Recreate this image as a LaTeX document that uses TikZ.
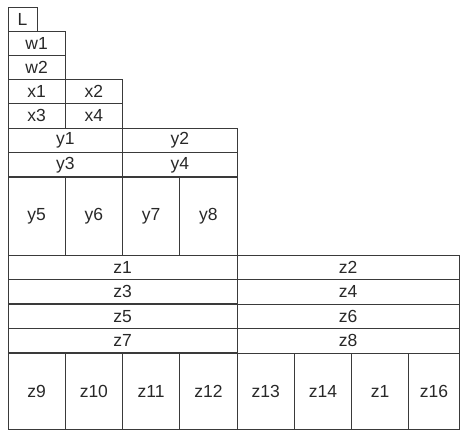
\documentclass[tikz,border=0pt]{standalone}
\usepackage{fontspec}
\setmainfont{Liberation Sans}
\usetikzlibrary{positioning}
\definecolor{GridLine}{RGB}{58,58,58}
\definecolor{CellText}{RGB}{40,40,40}
\tikzset{
  cell/.style={draw=GridLine,line width=0.9pt,inner sep=0pt,outer sep=0pt,
    anchor=north west,text=CellText,font=\fontsize{17.5}{17.5}\selectfont},
  shortcell/.style={cell,minimum height=24.2pt},
  tallcell/.style={cell,minimum height=77pt}
}

\begin{document}
\begin{tikzpicture}[x=1pt,y=-1pt]
  \useasboundingbox (0,0) rectangle (460,430);
  % top staircase
  \node[shortcell,minimum width=29pt] (L) at (8,7) {L\hspace{6pt}};
  \node[shortcell,minimum width=57.25pt] (w1) at (8,31.2) {w1};
  \node[shortcell,minimum width=57.25pt] (w2) at (8,55.4) {w2};
  \node[shortcell,minimum width=57.25pt] (x1) at (8,79.6) {x1};
  \node[shortcell,minimum width=57.25pt] (x2) at (65.25,79.6) {x2};
  \node[shortcell,minimum width=57.25pt] (x3) at (8,103.8) {x3};
  \node[shortcell,minimum width=57.25pt] (x4) at (65.25,103.8) {x4};
  % y block
  \node[shortcell,minimum width=114.5pt] (y1) at (8,128.5) {y1};
  \node[shortcell,minimum width=114.5pt] (y2) at (122.5,128.5) {y2};
  \node[shortcell,minimum width=114.5pt] (y3) at (8,152.7) {y3};
  \node[shortcell,minimum width=114.5pt] (y4) at (122.5,152.7) {y4};
  \foreach \k [count=\i from 0] in {5,...,8}
    \node[tallcell,minimum width=57.25pt,minimum height=78pt] (y\k) at (8+57.25*\i,177) {y\k};
  % z block
  \foreach \k [count=\i from 0] in {1,3,5,7} {
    \node[shortcell,minimum width=229pt] (z\k) at (8,255+24.5*\i) {z\k};
  }
  \node[shortcell,minimum width=222pt,minimum height=24.5pt] (z2) at (237,255) {z2};
  \node[shortcell,minimum width=222pt,minimum height=24.5pt] (z4) at (237,279.5) {z4};
  \node[shortcell,minimum width=222pt,minimum height=24.5pt] (z6) at (237,304) {z6};
  \node[shortcell,minimum width=222pt,minimum height=24.5pt] (z8) at (237,328.5) {z8};
  \foreach \k [count=\i from 0] in {9,...,14}
    \node[tallcell,minimum width=57.25pt,minimum height=76pt] (z\k) at (8+57.25*\i,353) {z\k};
  \node[tallcell,minimum width=57.25pt,minimum height=76pt] (z15) at (351.5,353) {z1};
  \node[tallcell,minimum width=50.25pt,minimum height=76pt] (z16) at (408.75,353) {z16};
\end{tikzpicture}
\end{document}
